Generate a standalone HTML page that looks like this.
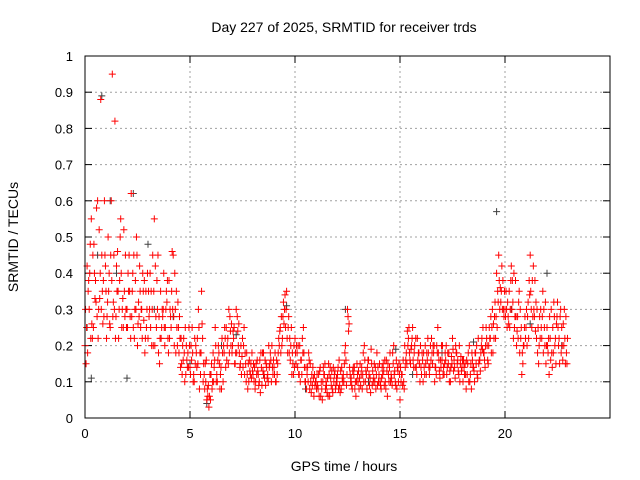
<!DOCTYPE html>
<html><head><meta charset="utf-8">
<style>
html,body{margin:0;padding:0;background:#fff;}
svg{display:block;font-family:"Liberation Sans",sans-serif;}
</style></head>
<body>
<svg id="chart" width="640" height="480" viewBox="0 0 640 480"></svg>
<script>
const xTicks=[0,5,10,15,20];
const yTicks=[0,0.1,0.2,0.3,0.4,0.5,0.6,0.7,0.8,0.9,1];
const yTickLabels=["0","0.1","0.2","0.3","0.4","0.5","0.6","0.7","0.8","0.9","1"];
const redStepHours=0.1;
const redA=[.20,.42,.30,.55,.25,.38,.60,.33,.45,.28,
.35,.50,.25,.95,.30,.42,.22,.55,.33,.28,
.30,.45,.62,.25,.38,.20,.42,.30,.27,.35,
.22,.40,.30,.55,.25,.18,.35,.28,.20,.32,
.38,.25,.45,.30,.20,.28,.15,.22,.12,.18,
.14,.25,.10,.18,.30,.12,.22,.08,.05,.03,
.12,.18,.25,.10,.15,.08,.20,.14,.22,.28,
.18,.25,.30,.20,.15,.22,.12,.18,.10,.15,
.12,.08,.16,.10,.14,.18,.09,.12,.15,.20,
.14,.10,.18,.25,.22,.30,.35,.28,.20,.15,
.22,.18,.12,.16,.25,.10,.14,.08,.12,.06,
.10,.08,.14,.05,.12,.09,.15,.11,.07,.13,
.10,.16,.08,.12,.20,.30,.14,.09,.12,.06,
.10,.15,.08,.20,.12,.16,.07,.13,.10,.18,
.12,.08,.15,.10,.06,.14,.11,.20,.09,.13,
.05,.12,.08,.18,.22,.15,.25,.20,.12,.18,
.14,.10,.20,.16,.12,.22,.18,.14,.25,.11,
.16,.12,.20,.15,.10,.22,.14,.18,.12,.17,
.10,.15,.12,.20,.08,.14,.18,.11,.16,.22,
.18,.25,.15,.22,.30,.28,.40,.45,.32,.38,
.30,.25,.35,.42,.22,.38,.28,.18,.12,.20,
.25,.32,.45,.38,.28,.22,.15,.30,.35,.20,
.25,.12,.30,.18,.22,.32,.15,.25,.20,.28];
const redB=[.15,.35,.48,.22,.40,.58,.30,.88,.26,.45,
.28,.40,.60,.32,.22,.46,.38,.25,.52,.30,
.40,.28,.35,.22,.50,.32,.25,.40,.18,.30,
.28,.35,.20,.42,.30,.15,.25,.40,.30,.22,
.30,.46,.20,.35,.25,.14,.20,.10,.16,.25,
.20,.10,.15,.22,.08,.35,.15,.10,.06,.12,
.08,.14,.10,.20,.12,.18,.25,.16,.30,.20,
.24,.15,.28,.18,.12,.20,.15,.08,.13,.18,
.10,.15,.12,.07,.18,.11,.14,.20,.16,.12,
.18,.12,.20,.28,.32,.25,.18,.22,.12,.20,
.15,.20,.10,.22,.14,.08,.18,.10,.14,.09,
.12,.06,.10,.14,.08,.11,.06,.13,.10,.09,
.14,.07,.11,.15,.09,.24,.10,.13,.08,.15,
.08,.12,.18,.10,.14,.09,.15,.11,.08,.14,
.10,.14,.09,.16,.12,.10,.18,.13,.08,.15,
.10,.16,.14,.24,.18,.20,.14,.22,.16,.10,
.18,.14,.12,.18,.20,.15,.10,.20,.16,.14,
.12,.18,.14,.10,.17,.13,.20,.16,.10,.14,
.14,.08,.18,.12,.16,.10,.20,.15,.18,.25,
.14,.20,.25,.18,.26,.22,.35,.30,.42,.28,
.35,.28,.30,.38,.25,.20,.32,.22,.15,.28,
.20,.38,.30,.42,.24,.18,.28,.22,.30,.15,
.18,.22,.14,.28,.26,.20,.30,.16,.22,.15];
const redC=[.30,.18,.40,.26,.48,.32,.22,.40,.35,.60,
.22,.35,.45,.28,.82,.35,.30,.40,.25,.45,
.25,.35,.28,.45,.30,.26,.35,.22,.38,.25,
.35,.25,.45,.20,.38,.28,.22,.30,.25,.38,
.22,.35,.28,.18,.32,.22,.12,.18,.20,.14,
.12,.18,.22,.14,.25,.18,.10,.15,.08,.06,
.15,.10,.20,.16,.08,.22,.18,.25,.15,.24,
.20,.15,.18,.26,.20,.14,.18,.12,.16,.11,
.15,.10,.13,.16,.09,.12,.15,.10,.18,.14,
.12,.16,.22,.18,.28,.34,.22,.18,.25,.12,
.18,.14,.20,.12,.18,.14,.10,.15,.09,.12,
.08,.12,.06,.10,.15,.07,.12,.09,.14,.08,
.12,.09,.14,.10,.16,.28,.12,.08,.14,.10,
.13,.09,.12,.16,.08,.12,.19,.10,.14,.09,
.15,.11,.13,.08,.15,.18,.09,.12,.16,.10,
.14,.09,.20,.15,.25,.19,.16,.14,.22,.15,
.12,.18,.15,.22,.14,.18,.20,.12,.18,.16,
.20,.15,.12,.18,.14,.19,.11,.15,.20,.13,
.16,.12,.15,.10,.18,.13,.15,.22,.13,.19,
.16,.22,.20,.28,.18,.32,.25,.38,.35,.30,
.28,.32,.25,.30,.40,.28,.22,.30,.18,.25,
.30,.22,.35,.28,.38,.30,.20,.25,.18,.32,
.20,.28,.18,.32,.15,.25,.28,.20,.30,.18];
const redD=[.25,.38,.22,.45,.33,.28,.52,.30,.38,.42,
.32,.26,.38,.45,.28,.35,.50,.30,.35,.25,
.35,.22,.40,.30,.45,.28,.30,.35,.22,.40,
.30,.20,.35,.28,.45,.22,.30,.25,.35,.18,
.28,.30,.40,.25,.18,.22,.16,.25,.14,.20,
.16,.12,.20,.15,.18,.26,.12,.16,.09,.05,
.10,.16,.12,.18,.14,.10,.22,.20,.18,.26,
.22,.18,.24,.14,.17,.25,.10,.15,.12,.13,
.14,.12,.09,.18,.13,.16,.11,.14,.10,.16,
.10,.15,.24,.20,.26,.30,.25,.16,.18,.14,
.20,.12,.16,.18,.10,.12,.16,.07,.11,.10,
.09,.13,.08,.12,.10,.06,.14,.08,.12,.11,
.08,.13,.10,.18,.12,.26,.11,.14,.10,.12,
.11,.14,.10,.13,.16,.11,.09,.15,.12,.10,
.09,.12,.16,.13,.10,.12,.15,.10,.14,.12,
.12,.10,.16,.20,.16,.22,.18,.14,.18,.20,
.16,.12,.18,.14,.16,.20,.14,.18,.13,.20,
.14,.16,.18,.13,.15,.16,.18,.13,.15,.16,
.12,.16,.10,.15,.14,.18,.12,.16,.20,.18,
.20,.16,.22,.25,.22,.28,.32,.36,.30,.35,
.30,.26,.38,.32,.28,.24,.35,.25,.20,.22,
.28,.34,.25,.30,.32,.25,.22,.28,.25,.20,
.22,.16,.25,.20,.28,.22,.18,.26,.15,.22];
const grayHours=[0.1,0.3,0.6,0.8,1.2,1.5,2.0,2.3,3.0,3.3,4.2,5.0,5.8,6.5,7.2,8.5,9.6,10.5,12.4,13.5,14.8,15.6,17.0,18.5,19.6,20.3,21.2,22.0,22.7];
const grayValues=[.25,.11,.45,.89,.60,.40,.11,.62,.48,.30,.28,.15,.04,.20,.23,.12,.31,.08,.30,.10,.19,.12,.18,.21,.57,.30,.26,.40,.20];

const L=85,R=610,T=56,B=418,XMAX=25,YMAX=1;
const sx=v=>L+(R-L)*v/XMAX;
const sy=v=>B-(B-T)*v/YMAX;
const svg=document.getElementById('chart');
const NS='http://www.w3.org/2000/svg';
function mk(tag,attrs){const e=document.createElementNS(NS,tag);for(const k in attrs)e.setAttribute(k,attrs[k]);svg.appendChild(e);return e;}

yTicks.forEach((v,i)=>{
  const y=sy(v);
  if(v>0&&v<1){const g=mk('line',{x1:L,x2:R,y1:y,y2:y,stroke:'#a0a0a0','stroke-dasharray':'2,3','stroke-width':1});
  
  }
  mk('line',{x1:L,x2:L+7,y1:y,y2:y,stroke:'#000'});
  mk('line',{x1:R,x2:R-7,y1:y,y2:y,stroke:'#000'});
  const t=mk('text',{x:L-12,y:y+5,'text-anchor':'end','font-size':13,fill:'#000'});
  t.textContent=yTickLabels[i];
  
  
});
xTicks.forEach(v=>{
  const x=sx(v);
  if(v>0){const g=mk('line',{x1:x,x2:x,y1:T,y2:B,stroke:'#a0a0a0','stroke-dasharray':'2,3','stroke-width':1});
  
  }
  mk('line',{x1:x,x2:x,y1:B,y2:B-7,stroke:'#000'});
  mk('line',{x1:x,x2:x,y1:T,y2:T+7,stroke:'#000'});
  const t=mk('text',{x:x,y:B+20,'text-anchor':'middle','font-size':13,fill:'#000'});
  t.textContent=String(v);
  
  
});

function cross(x,y,color,name){
  const p=mk('path',{d:`M${x-3.5},${y}h7M${x},${y-3.5}v7`,stroke:color,'stroke-width':1,fill:'none'});
  
  
}
grayValues.forEach((v,i)=>cross(sx(grayHours[i]),sy(v),'#404040','gray-point'));
redA.forEach((v,i)=>cross(sx(i*redStepHours),sy(v),'#ff0000','red-point'));
redC.forEach((v,i)=>cross(sx(i*redStepHours+redStepHours/4),sy(v),'#ff0000','red-point'));
redB.forEach((v,i)=>cross(sx(i*redStepHours+redStepHours/2),sy(v),'#ff0000','red-point'));
redD.forEach((v,i)=>cross(sx(i*redStepHours+3*redStepHours/4),sy(v),'#ff0000','red-point'));

const frame=mk('rect',{x:L,y:T,width:R-L,height:B-T,fill:'none',stroke:'#000'});



const title=mk('text',{x:344,y:32,'text-anchor':'middle','font-size':14,fill:'#000'});
title.textContent='Day 227 of 2025, SRMTID for receiver trds';


const xt=mk('text',{x:344,y:471,'text-anchor':'middle','font-size':14,fill:'#000'});
xt.textContent='GPS time / hours';


const yt=mk('text',{x:0,y:0,'text-anchor':'middle','font-size':14,fill:'#000',transform:'translate(18,237) rotate(-90)'});
yt.textContent='SRMTID / TECUs';


</script>
</body></html>
